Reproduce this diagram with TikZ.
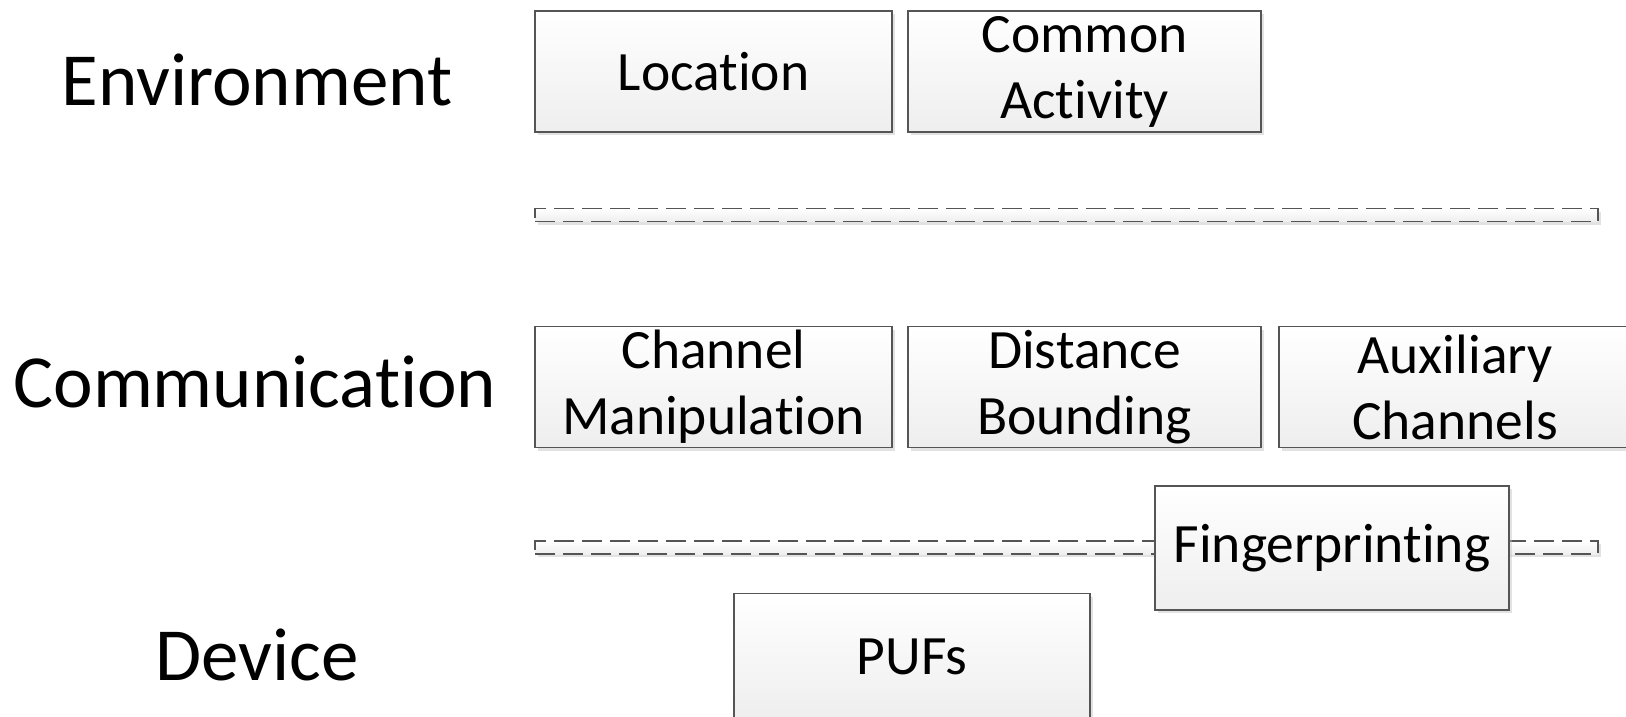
\documentclass[tikz,border=0pt]{standalone}
\usepackage{fontspec}
\setmainfont{Carlito}[Ligatures={NoCommon,NoContextual}, RawFeature={-liga;-clig;-dlig}]
\usetikzlibrary{shadows}
\definecolor{boxedge}{HTML}{555555}
\definecolor{boxbottom}{HTML}{EEEEEE}
\tikzset{
  softshadow/.style={drop shadow={shadow xshift=3pt, shadow yshift=-3pt, fill=black!25, opacity=0.45}},
  block/.style={rectangle, draw=boxedge, line width=1.5pt, top color=white, bottom color=boxbottom,
    softshadow, inner sep=0pt, align=center, minimum height=121pt,
    font=\fontsize{55.5}{66}\selectfont},
  layerbar/.style={rectangle, draw=boxedge, line width=1.5pt, dash pattern=on 20pt off 8pt,
    top color=white, bottom color=boxbottom, softshadow, inner sep=0pt,
    minimum width=1063pt, minimum height=13pt},
  layerlabel/.style={font=\fontsize{75}{90}\selectfont, inner sep=0pt}
}
\begin{document}
\begin{tikzpicture}[x=1pt, y=-1pt]
  \useasboundingbox (0,0) rectangle (1626,716);
  \clip (0,0) rectangle (1626,716);
  \fill[white] (0,0) rectangle (1626,716);

  % layer names
  \node[layerlabel] (env)  at (257,80)  {Environment};
  \node[layerlabel] (comm) at (255,382) {Communication};
  \node[layerlabel] (dev)  at (257,655) {Device};

  % layer separators
  \node[layerbar] (bar1) at (1066.5,215) {};
  \node[layerbar] (bar2) at (1066.5,547.5) {};

  % environment layer
  \node[block, minimum width=357pt] (loc) at (713.5,71.5) {Location};
  \node[block, minimum width=353pt] (act) at (1084.5,71.5) {Common\\Activity};

  % communication layer
  \node[block, minimum width=357pt] (chan) at (713.5,387) {Channel\\Manipulation};
  \node[block, minimum width=353pt] (dist) at (1084.5,387) {Distance\\Bounding};
  \node[block, minimum width=352pt] (aux)  at (1455,387) {Auxiliary\\Channels};

  % spans communication and device layers
  \node[block, minimum width=354pt, minimum height=124pt] (fing) at (1332,548) {Fingerprinting};

  % device layer, running past the lower edge
  \node[block, minimum width=356pt, minimum height=126pt] (puf) at (912,656.5) {PUFs};
\end{tikzpicture}
\end{document}
